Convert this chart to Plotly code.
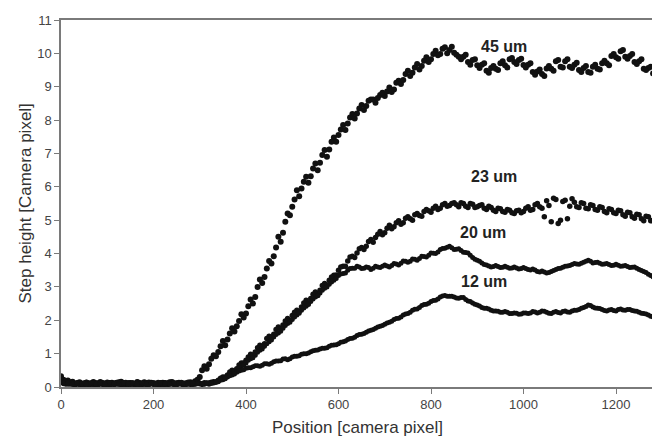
import plotly.graph_objects as go

# Step height profiles [camera pixel].
# *_a: values at x = 0, 10, ..., 1280 ; *_b: values at x = 5, 15, ..., 1275
h45_a = [0.32, 0.18, 0.12, 0.08, 0.14, 0.06, 0.11, 0.15, 0.09, 0.12,
         0.07, 0.13, 0.10, 0.16, 0.08, 0.11, 0.05, 0.12, 0.14, 0.09,
         0.11, 0.07, 0.13, 0.10, 0.15, 0.08, 0.12, 0.10, 0.14, 0.17,
         0.30, 0.62, 0.68, 0.95, 1.05, 1.38, 1.42, 1.76, 1.82, 2.18,
         2.20, 2.62, 2.70, 3.22, 3.30, 3.78, 3.92, 4.50, 4.62, 5.20,
         5.40, 5.90, 5.95, 6.30, 6.32, 6.70, 6.72, 7.10, 7.12, 7.48,
         7.55, 7.85, 7.90, 8.18, 8.20, 8.45, 8.42, 8.62, 8.52, 8.75,
         8.72, 8.98, 8.92, 9.18, 9.20, 9.48, 9.42, 9.68, 9.62, 9.88,
         9.82, 10.08, 9.98, 10.18, 10.10, 10.02, 9.90, 9.90, 9.74, 9.80,
         9.64, 9.66, 9.48, 9.56, 9.54, 9.70, 9.64, 9.82, 9.74, 9.80,
         9.65, 9.66, 9.44, 9.46, 9.38, 9.55, 9.54, 9.76, 9.60, 9.76,
         9.60, 9.66, 9.50, 9.56, 9.44, 9.60, 9.54, 9.70, 9.70, 9.92,
         9.88, 10.06, 9.90, 9.92, 9.74, 9.76, 9.54, 9.56, 9.40]
h45_b = [0.22, 0.10, 0.16, 0.11, 0.07, 0.13, 0.09, 0.12, 0.15, 0.08,
         0.12, 0.09, 0.14, 0.07, 0.12, 0.10, 0.15, 0.08, 0.11, 0.13,
         0.09, 0.12, 0.08, 0.14, 0.10, 0.13, 0.07, 0.12, 0.10, 0.22,
         0.50, 0.55, 0.85, 0.92, 1.22, 1.25, 1.60, 1.66, 1.98, 2.08,
         2.42, 2.50, 3.00, 3.12, 3.55, 3.70, 4.18, 4.35, 4.95, 5.15,
         5.62, 5.72, 6.15, 6.12, 6.55, 6.50, 6.95, 6.90, 7.35, 7.35,
         7.72, 7.70, 8.08, 8.05, 8.35, 8.30, 8.58, 8.62, 8.66, 8.82,
         8.86, 8.84, 9.12, 9.08, 9.38, 9.32, 9.58, 9.52, 9.78, 9.74,
         9.98, 9.94, 10.14, 10.00, 10.20, 9.96, 9.82, 9.96, 9.66, 9.82,
         9.56, 9.70, 9.42, 9.62, 9.50, 9.76, 9.58, 9.86, 9.68, 9.84,
         9.58, 9.70, 9.36, 9.52, 9.32, 9.62, 9.48, 9.80, 9.58, 9.82,
         9.56, 9.72, 9.44, 9.62, 9.42, 9.66, 9.52, 9.78, 9.64, 9.98,
         9.84, 10.10, 9.84, 9.98, 9.68, 9.82, 9.50, 9.60]

h23_a = [0.22, 0.10, 0.15, 0.07, 0.12, 0.10, 0.06, 0.13, 0.11, 0.08,
         0.14, 0.09, 0.12, 0.07, 0.10, 0.13, 0.09, 0.06, 0.11, 0.14,
         0.08, 0.12, 0.10, 0.07, 0.13, 0.11, 0.09, 0.12, 0.08, 0.11,
         0.10, 0.13, 0.09, 0.16, 0.20, 0.30, 0.36, 0.50, 0.55, 0.72,
         0.80, 0.98, 1.05, 1.25, 1.30, 1.52, 1.58, 1.80, 1.86, 2.05,
         2.14, 2.30, 2.40, 2.60, 2.65, 2.85, 2.90, 3.10, 3.20, 3.35,
         3.50, 3.62, 3.78, 3.92, 4.02, 4.18, 4.22, 4.42, 4.48, 4.66,
         4.62, 4.85, 4.80, 4.98, 4.92, 5.10, 5.00, 5.20, 5.12, 5.32,
         5.24, 5.42, 5.36, 5.50, 5.44, 5.52, 5.40, 5.50, 5.38, 5.48,
         5.40, 5.46, 5.32, 5.38, 5.26, 5.34, 5.24, 5.30, 5.20, 5.30,
         5.26, 5.40, 5.32, 5.50, 5.36, 5.58, 4.95, 5.62, 5.00, 5.60,
         5.42, 5.54, 5.38, 5.50, 5.34, 5.44, 5.30, 5.38, 5.22, 5.32,
         5.20, 5.28, 5.12, 5.22, 5.06, 5.16, 4.98, 5.10, 5.00]
h23_b = [0.14, 0.20, 0.09, 0.12, 0.08, 0.14, 0.10, 0.07, 0.13, 0.10,
         0.06, 0.12, 0.09, 0.13, 0.08, 0.11, 0.14, 0.09, 0.07, 0.12,
         0.10, 0.08, 0.13, 0.11, 0.07, 0.12, 0.10, 0.14, 0.09, 0.12,
         0.08, 0.11, 0.14, 0.15, 0.26, 0.30, 0.45, 0.48, 0.66, 0.72,
         0.90, 0.96, 1.18, 1.20, 1.45, 1.48, 1.72, 1.74, 1.98, 2.00,
         2.24, 2.26, 2.52, 2.50, 2.78, 2.74, 3.04, 3.06, 3.30, 3.36,
         3.60, 3.62, 3.90, 3.88, 4.14, 4.12, 4.36, 4.34, 4.58, 4.56,
         4.76, 4.74, 4.92, 4.88, 5.06, 5.04, 5.16, 5.14, 5.26, 5.28,
         5.36, 5.32, 5.46, 5.42, 5.50, 5.46, 5.52, 5.42, 5.50, 5.38,
         5.44, 5.36, 5.42, 5.30, 5.36, 5.26, 5.32, 5.22, 5.28, 5.22,
         5.36, 5.30, 5.46, 5.40, 5.10, 5.44, 5.66, 4.90, 5.56, 5.04,
         5.64, 5.40, 5.52, 5.36, 5.46, 5.32, 5.40, 5.26, 5.34, 5.22,
         5.30, 5.16, 5.24, 5.10, 5.18, 5.04, 5.12, 4.98]

h20_a = [0.14, 0.20, 0.08, 0.12, 0.09, 0.13, 0.10, 0.07, 0.12, 0.10,
         0.08, 0.11, 0.14, 0.09, 0.12, 0.07, 0.10, 0.13, 0.08, 0.11,
         0.09, 0.14, 0.07, 0.12, 0.09, 0.13, 0.10, 0.07, 0.12, 0.09,
         0.11, 0.08, 0.12, 0.14, 0.18, 0.25, 0.34, 0.42, 0.52, 0.62,
         0.72, 0.85, 0.95, 1.10, 1.22, 1.36, 1.50, 1.62, 1.76, 1.90,
         2.02, 2.16, 2.30, 2.42, 2.56, 2.70, 2.82, 2.96, 3.08, 3.20,
         3.34, 3.40, 3.50, 3.56, 3.62, 3.55, 3.60, 3.52, 3.62, 3.58,
         3.66, 3.60, 3.70, 3.66, 3.78, 3.74, 3.84, 3.80, 3.92, 3.90,
         4.02, 4.00, 4.12, 4.16, 4.22, 4.12, 4.14, 4.04, 4.02, 3.88,
         3.80, 3.72, 3.66, 3.60, 3.64, 3.58, 3.62, 3.56, 3.60, 3.54,
         3.58, 3.52, 3.54, 3.46, 3.48, 3.42, 3.46, 3.52, 3.56, 3.62,
         3.64, 3.70, 3.68, 3.74, 3.80, 3.72, 3.74, 3.68, 3.70, 3.64,
         3.68, 3.62, 3.64, 3.58, 3.60, 3.52, 3.46, 3.38, 3.30]
h20_b = [0.10, 0.15, 0.11, 0.08, 0.12, 0.09, 0.13, 0.10, 0.08, 0.12,
         0.10, 0.07, 0.11, 0.13, 0.09, 0.12, 0.08, 0.11, 0.13, 0.09,
         0.12, 0.10, 0.13, 0.08, 0.11, 0.09, 0.12, 0.10, 0.08, 0.12,
         0.10, 0.12, 0.11, 0.16, 0.23, 0.27, 0.39, 0.46, 0.58, 0.66,
         0.80, 0.88, 1.04, 1.14, 1.30, 1.41, 1.57, 1.67, 1.84, 1.94,
         2.10, 2.21, 2.37, 2.47, 2.64, 2.74, 2.90, 3.00, 3.15, 3.25,
         3.39, 3.42, 3.55, 3.56, 3.60, 3.56, 3.58, 3.56, 3.60, 3.62,
         3.63, 3.64, 3.69, 3.71, 3.77, 3.77, 3.83, 3.85, 3.91, 3.95,
         4.01, 4.05, 4.15, 4.19, 4.17, 4.13, 4.09, 4.03, 3.95, 3.83,
         3.77, 3.67, 3.63, 3.61, 3.61, 3.59, 3.59, 3.57, 3.57, 3.55,
         3.55, 3.51, 3.51, 3.45, 3.45, 3.43, 3.49, 3.55, 3.59, 3.63,
         3.67, 3.69, 3.71, 3.77, 3.77, 3.73, 3.71, 3.69, 3.67, 3.65,
         3.65, 3.63, 3.61, 3.59, 3.56, 3.49, 3.43, 3.34]

h12_a = [0.18, 0.09, 0.13, 0.10, 0.07, 0.12, 0.09, 0.11, 0.06, 0.13,
         0.10, 0.08, 0.12, 0.10, 0.14, 0.09, 0.12, 0.08, 0.10, 0.07,
         0.13, 0.10, 0.08, 0.12, 0.10, 0.07, 0.14, 0.09, 0.11, 0.08,
         0.12, 0.10, 0.13, 0.12, 0.16, 0.22, 0.30, 0.36, 0.44, 0.50,
         0.56, 0.58, 0.64, 0.62, 0.70, 0.68, 0.76, 0.78, 0.84, 0.82,
         0.90, 0.92, 0.98, 1.00, 1.06, 1.10, 1.14, 1.16, 1.22, 1.26,
         1.30, 1.36, 1.42, 1.46, 1.54, 1.58, 1.64, 1.70, 1.76, 1.82,
         1.88, 1.94, 2.02, 2.06, 2.16, 2.20, 2.30, 2.34, 2.44, 2.48,
         2.56, 2.60, 2.70, 2.74, 2.72, 2.70, 2.66, 2.68, 2.58, 2.52,
         2.46, 2.38, 2.36, 2.30, 2.28, 2.24, 2.26, 2.20, 2.22, 2.18,
         2.22, 2.20, 2.26, 2.22, 2.28, 2.24, 2.20, 2.26, 2.22, 2.28,
         2.24, 2.30, 2.32, 2.38, 2.46, 2.40, 2.36, 2.32, 2.28, 2.32,
         2.28, 2.34, 2.30, 2.32, 2.28, 2.24, 2.20, 2.16, 2.10]
h12_b = [0.12, 0.11, 0.08, 0.13, 0.10, 0.08, 0.12, 0.09, 0.11, 0.08,
         0.13, 0.10, 0.08, 0.12, 0.10, 0.13, 0.09, 0.12, 0.08, 0.11,
         0.09, 0.12, 0.10, 0.08, 0.13, 0.10, 0.11, 0.08, 0.12, 0.10,
         0.09, 0.12, 0.11, 0.14, 0.20, 0.25, 0.34, 0.39, 0.48, 0.52,
         0.58, 0.61, 0.64, 0.65, 0.70, 0.71, 0.78, 0.79, 0.85, 0.85,
         0.92, 0.94, 1.00, 1.02, 1.09, 1.11, 1.16, 1.18, 1.25, 1.27,
         1.34, 1.38, 1.45, 1.49, 1.57, 1.60, 1.68, 1.72, 1.80, 1.84,
         1.92, 1.97, 2.05, 2.10, 2.19, 2.24, 2.33, 2.38, 2.47, 2.51,
         2.59, 2.64, 2.73, 2.72, 2.72, 2.67, 2.68, 2.62, 2.56, 2.48,
         2.43, 2.36, 2.34, 2.28, 2.27, 2.24, 2.24, 2.20, 2.21, 2.19,
         2.22, 2.22, 2.25, 2.24, 2.27, 2.21, 2.24, 2.23, 2.26, 2.25,
         2.28, 2.30, 2.36, 2.41, 2.44, 2.37, 2.35, 2.29, 2.31, 2.29,
         2.32, 2.31, 2.32, 2.29, 2.27, 2.21, 2.19, 2.12]

series = [("45 um", h45_a, h45_b, 6), ("23 um", h23_a, h23_b, 5.5),
          ("20 um", h20_a, h20_b, 5), ("12 um", h12_a, h12_b, 5)]

label_names = ["45 um", "23 um", "20 um", "12 um"]
label_x = [958, 937, 912, 914]
label_y = [10.2, 6.3, 4.64, 3.17]

x_ticks = [0, 200, 400, 600, 800, 1000, 1200]
y_ticks = list(range(0, 12))

fig = go.Figure()
for name, va, vb, msize in series:
    xs = [10 * i for i in range(len(va))] + [10 * i + 5 for i in range(len(vb))]
    ys = list(va) + list(vb)
    fig.add_trace(go.Scatter(
        x=xs, y=ys, mode="markers", name=name,
        marker=dict(color="#111111", size=msize, symbol="circle"),
        showlegend=False,
    ))

for n, lx, ly in zip(label_names, label_x, label_y):
    fig.add_annotation(x=lx, y=ly, text="<b>%s</b>" % n, showarrow=False,
                       font=dict(size=16, color="#222222"))

fig.add_annotation(xref="paper", yref="paper", x=0.5, y=0, yshift=-40,
                   text="Position [camera pixel]", showarrow=False,
                   font=dict(size=17, color="#333333"), yanchor="middle")
fig.add_annotation(xref="paper", yref="paper", x=0, y=0.5, xshift=-36,
                   text="Step height [Camera pixel]", showarrow=False,
                   textangle=-90, xanchor="center",
                   font=dict(size=17, color="#333333"))

axis_common = dict(showgrid=False, zeroline=False, showline=True,
                   linecolor="#7a7a7a", linewidth=1.5, mirror=True,
                   ticks="outside", ticklen=5, tickcolor="#7a7a7a",
                   ticklabeloverflow="allow",
                   tickfont=dict(size=13, color="#444444"))

fig.update_xaxes(range=[0, 1280], tickvals=x_ticks, **axis_common)
fig.update_yaxes(range=[0, 11], tickvals=y_ticks, **axis_common)

# the page body adds an 8 px offset, so the figure is sized to fit the window
fig.update_layout(
    width=652, height=430,
    margin=dict(l=53, r=5, t=6, b=51),
    paper_bgcolor="white", plot_bgcolor="white",
    font=dict(family="Liberation Sans, Arial, sans-serif"),
)

fig.write_html("out.html")
